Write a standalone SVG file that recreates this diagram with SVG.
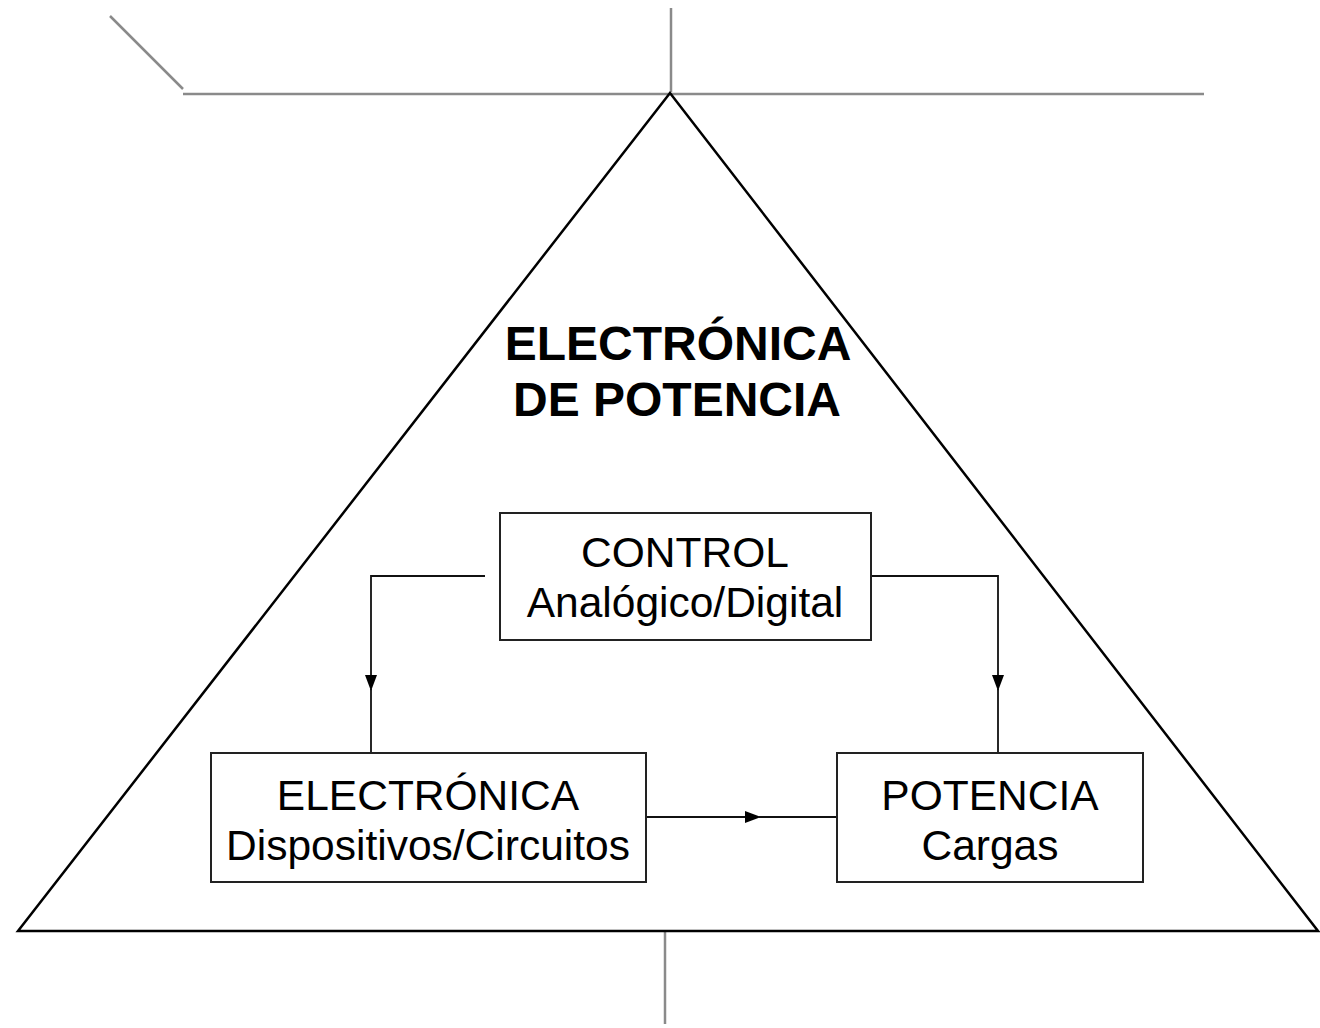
<svg xmlns="http://www.w3.org/2000/svg" width="1320" height="1028" viewBox="0 0 1320 1028">
<defs>
<style>
.g{stroke:#8a8a8a;stroke-width:2.5;fill:none}
.box{fill:#fff;stroke:#222;stroke-width:2}
.c{stroke:#111;stroke-width:1.8;fill:none}
.t{font-family:"Liberation Sans",Arial,sans-serif;font-size:42.5px;fill:#000;text-anchor:middle}
.b{font-family:"Liberation Sans",Arial,sans-serif;font-size:48px;font-weight:bold;fill:#000;text-anchor:middle}
</style>
<marker id="ah" markerWidth="16" markerHeight="12" refX="15" refY="6" orient="auto" markerUnits="userSpaceOnUse">
<path d="M0,0 L16,6 L0,12 Z" fill="#000"/>
</marker>
</defs>
<g id="frame">
<line class="g" x1="110" y1="16" x2="183" y2="89"/>
<line class="g" x1="183" y1="94" x2="1204" y2="94" stroke-width="3"/>
<line class="g" x1="671" y1="8" x2="671" y2="92"/>
<line class="g" x1="665" y1="931" x2="665" y2="1024"/>
<path d="M670,93 L18,931 L1318,931 Z" fill="none" stroke="#000" stroke-width="2.5" stroke-linejoin="miter"/>
</g>
<g id="title">
<text class="b" x="678" y="360">ELECTRÓNICA</text>
<text class="b" x="677" y="416">DE POTENCIA</text>
</g>
<g id="connectors">
<path class="c" d="M485,576 H371 V690" marker-end="url(#ah)"/>
<path class="c" d="M371,688 V752"/>
<path class="c" d="M871,576 H998 V690" marker-end="url(#ah)"/>
<path class="c" d="M998,688 V752"/>
<path class="c" d="M646,817 H760" marker-end="url(#ah)"/>
<path class="c" d="M758,817 H837"/>
</g>
<g id="control">
<rect class="box" x="500" y="513" width="371" height="127"/>
<text class="t" x="685" y="567">CONTROL</text>
<text class="t" x="685" y="617">Analógico/Digital</text>
</g>
<g id="electronica">
<rect class="box" x="211" y="753" width="435" height="129"/>
<text class="t" x="428" y="810">ELECTRÓNICA</text>
<text class="t" x="428" y="860">Dispositivos/Circuitos</text>
</g>
<g id="potencia">
<rect class="box" x="837" y="753" width="306" height="129"/>
<text class="t" x="990" y="810">POTENCIA</text>
<text class="t" x="990" y="860">Cargas</text>
</g>
</svg>
